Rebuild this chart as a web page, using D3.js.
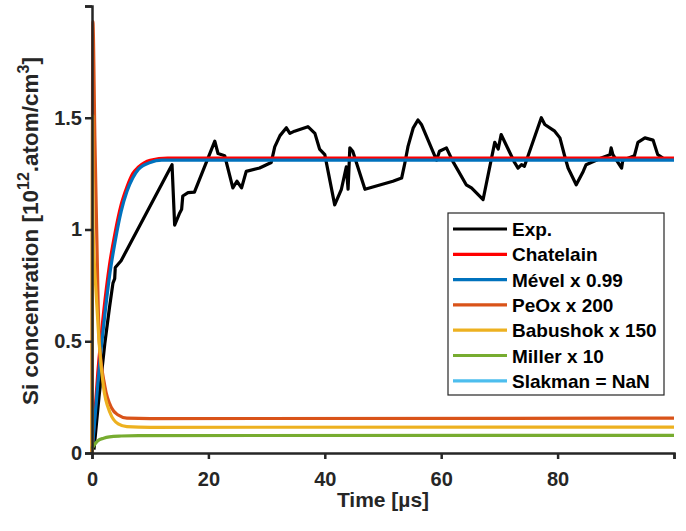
<!DOCTYPE html>
<html>
<head>
<meta charset="utf-8">
<script src="https://cdn.jsdelivr.net/npm/d3@7"></script>
<style>
  body { margin: 0; background: #fff; }
  svg { display: block; font-family: "Liberation Sans", Arial, sans-serif; font-weight: bold; }
</style>
</head>
<body>
<div id="chart"></div>
<script>
// series: [time µs, Si concentration 1e12 atom/cm3]
const expData = [[0.34,0.015],[1.2,0.25],[2.2,0.49],[3.0,0.65],[3.6,0.76],[3.9,0.78],[4.0,0.83],[5.0,0.86],
  [13.75,1.29],[14.2,1.02],[15.0,1.07],[15.4,1.09],[15.6,1.15],[16.5,1.165],[17.6,1.167],[21.1,1.395],
  [21.65,1.34],[22.8,1.33],[24.2,1.186],[24.9,1.216],[25.7,1.186],[26.5,1.26],[28.8,1.275],[30.8,1.30],
  [31.4,1.37],[32.3,1.42],[33.4,1.455],[34.0,1.43],[34.8,1.44],[37.1,1.46],[38.3,1.43],[39.1,1.36],
  [40,1.335],[41.7,1.11],[42.85,1.18],[43.7,1.28],[44,1.18],[44.3,1.365],[44.8,1.35],[46.9,1.18],
  [51.7,1.216],[53.2,1.23],[53.7,1.29],[54.3,1.372],[55.2,1.455],[56,1.49],[56.6,1.47],[59.2,1.31],
  [59.7,1.35],[60.9,1.365],[62,1.305],[64.3,1.20],[65.2,1.186],[67.2,1.134],[69.2,1.39],[69.8,1.36],
  [70.3,1.425],[72.6,1.30],[73.2,1.275],[73.8,1.29],[74.3,1.283],[77.2,1.50],[77.8,1.47],[79.5,1.44],
  [80.4,1.41],[81.2,1.33],[81.8,1.275],[83.2,1.20],[84.4,1.26],[84.9,1.29],[87.5,1.32],[89,1.335],
  [89.2,1.365],[89.5,1.335],[91,1.275],[91.2,1.31],[93.2,1.33],[93.8,1.39],[95,1.41],[96.4,1.40],
  [97.2,1.335],[98.1,1.32]];
const chatelain = [[0,0],[1,0.36],[2,0.63],[3,0.84],[4,0.99],[5,1.11],[6,1.19],[7,1.25],[8,1.28],[10,1.31],[13,1.32],[100,1.32]];
const mevel = [[0,0],[1,0.31],[1.55,0.46],[2,0.57],[3,0.79],[4,0.95],[5,1.08],[6,1.17],[7,1.23],[8,1.27],[10,1.30],[12,1.31],[100,1.31]];
const peox = [[0,0],[0.15,1.93],[0.5,1.4],[0.8,1.0],[1.25,0.5],[2.2,0.3],[3.4,0.2],[4.5,0.17],[6,0.156],[10,0.154],[100,0.156]];
const babushok = [[0,0],[0.12,1.51],[0.2,1.0],[0.7,0.72],[1.2,0.5],[1.95,0.3],[3.1,0.18],[4.5,0.13],[6,0.118],[10,0.115],[100,0.116]];
const miller = [[0,0.02],[0.5,0.04],[1,0.055],[2,0.066],[3,0.072],[5,0.076],[8,0.078],[100,0.079]];
const slakman = []; // NaN in the source

const seriesNames = ["Exp.", "Chatelain", "M\u00e9vel x 0.99", "PeOx x 200", "Babushok x 150", "Miller x 10", "Slakman = NaN"];
const seriesData = [expData, chatelain, mevel, peox, babushok, miller, slakman];
const seriesColors = ["#000000", "#FF0000", "#0072BD", "#D95319", "#EDB120", "#77AC30", "#4DBEEE"];

const xTicks = [0, 20, 40, 60, 80];
const yTicks = [0, 0.5, 1, 1.5];

const width = 686, height = 531;
const margin = { top: 6, right: 12, bottom: 78, left: 92 };

const svg = d3.select("#chart").append("svg")
  .attr("width", width)
  .attr("height", height);

const x = d3.scaleLinear().domain([0, 100]).range([margin.left, width - margin.right]);
const y = d3.scaleLinear().domain([0, 2]).range([height - margin.bottom, margin.top]);

// lines
const line = d3.line().x(d => x(d[0])).y(d => y(d[1]));
const smooth = d3.line().x(d => x(d[0])).y(d => y(d[1])).curve(d3.curveMonotoneX);

svg.append("g").selectAll("path")
  .data(seriesData)
  .join("path")
  .attr("d", (d, i) => d.length ? (i === 0 ? line(d) : smooth(d)) : null)
  .attr("fill", "none")
  .attr("stroke", (d, i) => seriesColors[i])
  .attr("stroke-width", 3.2)
  .attr("stroke-linejoin", "round");

// axes
const axisColor = "#262626";
const xAxis = svg.append("g")
  .attr("transform", `translate(0,${y(0)})`)
  .call(d3.axisBottom(x).tickValues(xTicks.concat([100])).tickSize(6).tickPadding(13)
    .tickFormat(d => d === 100 ? "" : d));
const yAxis = svg.append("g")
  .attr("transform", `translate(${x(0)},0)`)
  .call(d3.axisLeft(y).tickValues(yTicks.concat([2])).tickSize(7).tickPadding(3)
    .tickFormat(d => d === 2 ? "" : d));

[xAxis, yAxis].forEach(a => {
  a.select(".domain").attr("stroke", axisColor).attr("stroke-width", 2.5);
  a.selectAll(".tick line").attr("stroke", axisColor).attr("stroke-width", 2.5);
  a.selectAll(".tick text").attr("fill", axisColor)
    .style("font-size", "20px").style("font-weight", "bold")
    .style("font-family", "Liberation Sans, Arial, sans-serif");
});

// axis labels
svg.append("text")
  .attr("x", x(50))
  .attr("y", 507)
  .attr("text-anchor", "middle")
  .attr("fill", axisColor)
  .style("font-size", "21px")
  .text("Time [\u00b5s]");

const yl = svg.append("text")
  .attr("transform", `translate(38,231) rotate(-90)`)
  .attr("text-anchor", "middle")
  .attr("fill", axisColor)
  .style("font-size", "22.5px");
yl.append("tspan").text("Si concentration [10");
yl.append("tspan").attr("dy", -9).style("font-size", "16px").text("12");
yl.append("tspan").attr("dy", 9).text(".atom/cm");
yl.append("tspan").attr("dy", -9).style("font-size", "16px").text("3");
yl.append("tspan").attr("dy", 9).text("]");

// legend
const legend = svg.append("g").attr("transform", "translate(448,213)");
legend.append("rect")
  .attr("width", 216).attr("height", 182)
  .attr("fill", "#fff")
  .attr("stroke", axisColor).attr("stroke-width", 1.2);
const item = legend.selectAll("g.item")
  .data(seriesNames)
  .join("g")
  .attr("class", "item")
  .attr("transform", (d, i) => `translate(0,${16 + i * 25.3})`);
item.append("line")
  .attr("x1", 5).attr("x2", 59)
  .attr("stroke", (d, i) => seriesColors[i])
  .attr("stroke-width", 3.2);
item.append("text")
  .attr("x", 64).attr("y", 7)
  .attr("fill", "#000")
  .style("font-size", "19px")
  .text(d => d);
</script>
</body>
</html>
